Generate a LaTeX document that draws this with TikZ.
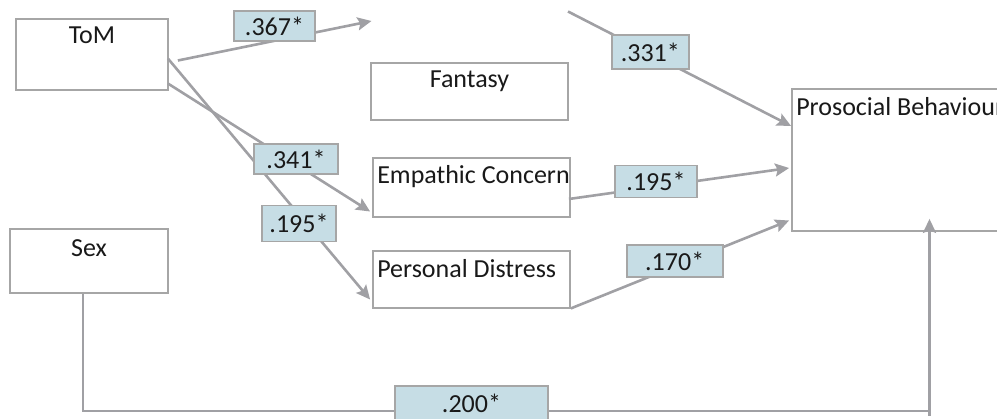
\documentclass[tikz,border=0pt]{standalone}
\usepackage{fontspec}
\setmainfont{Carlito}
\usetikzlibrary{calc,arrows.meta}
\definecolor{linegray}{RGB}{160,160,164}
\definecolor{boxgray}{RGB}{166,166,166}
\definecolor{coeffill}{RGB}{198,221,229}
\definecolor{txt}{RGB}{25,25,25}
\tikzset{
  varbox/.style={draw=boxgray, line width=1.8pt, fill=white, rectangle, inner sep=0pt},
  conn/.style={draw=linegray, line width=2.6pt, -{Stealth[length=14pt,width=13pt,inset=2.5pt]}},
  plainconn/.style={draw=linegray, line width=2.6pt},
  coef/.style={draw=boxgray, line width=1.6pt, fill=coeffill, rectangle, inner sep=0pt, text=txt, font=\fontsize{26}{30}\selectfont},
  vtext/.style={inner sep=0pt, text=txt, font=\fontsize{26}{30}\selectfont},
}
\begin{document}
\begin{tikzpicture}[x=1pt,y=-1pt]
\useasboundingbox (0,0) rectangle (997,419);
\clip (0,0) rectangle (997,419);
% variable boxes
\node[varbox, minimum width=152pt, minimum height=71pt] (tom) at (92,54.5) {};
\node[vtext, anchor=north] (tomt) at ($(tom.north)+(0,9)$) {ToM};
\node[varbox, minimum width=197pt, minimum height=57pt] (fan) at (469.5,91.5) {};
\node[vtext, anchor=north] (fant) at ($(fan.north)+(0,9)$) {Fantasy};
\node[varbox, minimum width=197pt, minimum height=59pt] (emp) at (471.5,187.5) {};
\node[vtext, anchor=north west] (empt) at ($(emp.north west)+(5,8.5)$) {Empathic Concern};
\node[varbox, minimum width=197pt, minimum height=57pt] (pd) at (471.5,279.5) {};
\node[vtext, anchor=north west] (pdt) at ($(pd.north west)+(5,9.5)$) {Personal Distress};
\node[varbox, minimum width=258pt, minimum height=142pt] (pro) at (921,160) {};
\node[vtext, anchor=north west] (prot) at ($(pro.north west)+(5,9.5)$) {Prosocial Behaviour};
\node[varbox, minimum width=158pt, minimum height=64pt] (sex) at (89,261) {};
\node[vtext, anchor=north] (sext) at ($(sex.north)+(0,11)$) {Sex};
% free ends
\coordinate (ghostin) at (371.5,21);
\coordinate (ghostout) at (568,11.5);
% connectors
\draw[conn] ($(tom.east)+(9,6)$) -- (ghostin);
\draw[conn] (ghostout) -- ($(pro.west)+(0,-34)$);
\draw[conn] ($(tom.east)+(-1,29)$) -- ($(emp.west)+(-2,24)$);
\draw[conn] ($(tom.east)+(-1,4)$) -- ($(pd.west)+(-2,20)$);
\draw[conn] ($(emp.east)+(-2,11.5)$) -- ($(pro.west)+(-2,8)$);
\draw[conn] ($(pd.south east)+(0,-0.5)$) -- ($(pro.west)+(-2,60.5)$);
\draw[plainconn] ($(pro.south)+(8.5,184)$) -- ($(pro.south)+(8.5,178)$);
\draw[conn] ($(sex.south)+(-6,0)$) -- ++(0,117) -| ($(pro.south)+(8.5,-13)$);
% coefficient labels
\node[coef, minimum width=81pt, minimum height=30pt] (c367) at (274.5,26) {.367*};
\node[coef, minimum width=77pt, minimum height=34pt] (c331) at (650.3,52) {.331*};
\node[coef, minimum width=84pt, minimum height=30pt] (c341) at (296,159) {.341*};
\node[coef, minimum width=74pt, minimum height=36pt] (c195a) at (299,223.7) {.195*};
\node[coef, minimum width=82pt, minimum height=32pt] (c195b) at (656,181.7) {.195*};
\node[coef, minimum width=96pt, minimum height=32pt] (c170) at (674.7,261) {.170*};
\node[coef, minimum width=153pt, minimum height=34pt] (c200) at (471.5,403) {.200*};
\end{tikzpicture}
\end{document}
